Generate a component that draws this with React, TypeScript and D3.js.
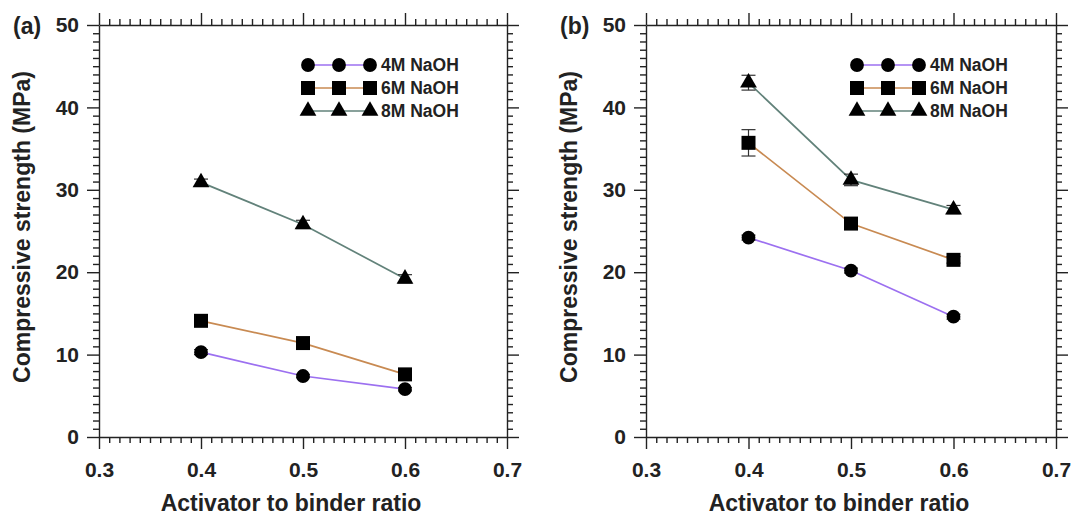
import React, { useEffect, useRef } from 'react';
import * as d3 from 'd3';

// x values shared by every series
const ratios = [0.4, 0.5, 0.6];
const seriesNames = ['4M NaOH', '6M NaOH', '8M NaOH'];
const lineColors = ['#9c70f0', '#c88a52', '#62827a'];

// panel (a)
const a4M = [10.3, 7.4, 5.8];
const a6M = [14.1, 11.4, 7.6];
const a8M = [30.9, 25.8, 19.2];
const a4MErr = [0.3, 0.2, 0.2];
const a6MErr = [0.3, 0.3, 0.3];
const a8MErr = [0.4, 0.5, 0.5];

// panel (b)
const b4M = [24.2, 20.2, 14.6];
const b6M = [35.7, 25.9, 21.5];
const b8M = [43.0, 31.2, 27.6];
const b4MErr = [0.3, 0.3, 0.3];
const b6MErr = [1.6, 0.5, 0.4];
const b8MErr = [0.9, 0.7, 0.5];

const xTicks = [0.3, 0.4, 0.5, 0.6, 0.7];
const yTicks = [0, 10, 20, 30, 40, 50];
const xMinor = d3.range(30, 71).filter((i) => i % 10 !== 0).map((i) => i / 100);
const yMinor = d3.range(0, 51).filter((i) => i % 10 !== 0);

const FONT = '"Liberation Sans", Arial, sans-serif';
const INK = '#222';

const symbols = [d3.symbolCircle, d3.symbolSquare, d3.symbolTriangle];
const symbolSizes = [150, 196, 122];

const panels = [
	{ tag: '(a)', left: 99, right: 507, series: [a4M, a6M, a8M], errs: [a4MErr, a6MErr, a8MErr] },
	{ tag: '(b)', left: 646, right: 1056, series: [b4M, b6M, b8M], errs: [b4MErr, b6MErr, b8MErr] },
];

const TOP = 25;
const BOTTOM = 437;

function drawPanel(svg, p) {
	const x = d3.scaleLinear().domain([0.3, 0.7]).range([p.left, p.right]);
	const y = d3.scaleLinear().domain([0, 50]).range([BOTTOM, TOP]);
	const g = svg.append('g');

	const styleAxis = (sel) => {
		sel.selectAll('path,line').attr('stroke', INK).attr('stroke-width', 1.4);
		sel.selectAll('text')
			.attr('font-family', FONT)
			.attr('font-size', 21)
			.attr('font-weight', 'bold')
			.attr('fill', INK);
	};

	// minor ticks
	g.append('g').attr('transform', `translate(0,${BOTTOM})`)
		.call(d3.axisBottom(x).tickValues(xMinor).tickSize(6).tickFormat(() => ''))
		.call(styleAxis).select('.domain').remove();
	g.append('g').attr('transform', `translate(0,${TOP})`)
		.call(d3.axisTop(x).tickValues(xMinor).tickSize(6).tickFormat(() => ''))
		.call(styleAxis).select('.domain').remove();
	g.append('g').attr('transform', `translate(${p.left},0)`)
		.call(d3.axisLeft(y).tickValues(yMinor).tickSize(6).tickFormat(() => ''))
		.call(styleAxis).select('.domain').remove();
	g.append('g').attr('transform', `translate(${p.right},0)`)
		.call(d3.axisRight(y).tickValues(yMinor).tickSize(6).tickFormat(() => ''))
		.call(styleAxis).select('.domain').remove();

	// major ticks and labels
	g.append('g').attr('transform', `translate(0,${BOTTOM})`)
		.call(d3.axisBottom(x).tickValues(xTicks).tickSize(12).tickSizeOuter(0).tickPadding(13).tickFormat(d3.format('.1f')))
		.call(styleAxis);
	g.append('g').attr('transform', `translate(0,${TOP})`)
		.call(d3.axisTop(x).tickValues(xTicks).tickSize(12).tickSizeOuter(0).tickFormat(() => ''))
		.call(styleAxis);
	g.append('g').attr('transform', `translate(${p.left},0)`)
		.call(d3.axisLeft(y).tickValues(yTicks).tickSize(12).tickSizeOuter(0).tickPadding(8))
		.call(styleAxis);
	g.append('g').attr('transform', `translate(${p.right},0)`)
		.call(d3.axisRight(y).tickValues(yTicks).tickSize(12).tickSizeOuter(0).tickFormat(() => ''))
		.call(styleAxis);

	// axis titles
	g.append('text')
		.attr('transform', `translate(${p.left - 69},${(TOP + BOTTOM) / 2 - 4}) rotate(-90)`)
		.attr('text-anchor', 'middle')
		.attr('font-family', FONT).attr('font-size', 23).attr('font-weight', 'bold').attr('fill', INK)
		.text('Compressive strength (MPa)');
	g.append('text')
		.attr('x', (p.left + p.right) / 2 - 12).attr('y', 511)
		.attr('text-anchor', 'middle')
		.attr('font-family', FONT).attr('font-size', 23).attr('font-weight', 'bold').attr('fill', INK)
		.text('Activator to binder ratio');
	g.append('text')
		.attr('x', p.left - 86).attr('y', 34)
		.attr('font-family', FONT).attr('font-size', 23).attr('font-weight', 'bold').attr('fill', INK)
		.text(p.tag);

	const line = d3.line().x((d) => x(d[0])).y((d) => y(d[1]));

	p.series.forEach((vals, si) => {
		const pts = ratios.map((r, i) => [r, vals[i]]);
		g.append('path')
			.attr('d', line(pts))
			.attr('fill', 'none')
			.attr('stroke', lineColors[si])
			.attr('stroke-width', 1.7);

		// error bars
		const eg = g.append('g').attr('stroke', '#333').attr('stroke-width', 1.2);
		ratios.forEach((r, i) => {
			const e = p.errs[si][i];
			const cx = x(r);
			eg.append('line').attr('x1', cx).attr('x2', cx).attr('y1', y(vals[i] - e)).attr('y2', y(vals[i] + e));
			[vals[i] - e, vals[i] + e].forEach((v) => {
				eg.append('line').attr('x1', cx - 7).attr('x2', cx + 7).attr('y1', y(v)).attr('y2', y(v));
			});
		});

		const sym = d3.symbol().type(symbols[si]).size(symbolSizes[si]);
		g.selectAll(null).data(pts).enter().append('path')
			.attr('d', sym)
			.attr('transform', (d) => `translate(${x(d[0])},${y(d[1])})`)
			.attr('fill', '#000');
	});

	// legend
	const lx = [p.right - 199, p.right - 168, p.right - 137];
	const textX = p.right - 126;
	seriesNames.forEach((name, si) => {
		const ly = 65 + si * 23;
		g.append('line')
			.attr('x1', lx[0]).attr('x2', lx[2]).attr('y1', ly).attr('y2', ly)
			.attr('stroke', lineColors[si]).attr('stroke-width', 1.7);
		const sym = d3.symbol().type(symbols[si]).size(symbolSizes[si]);
		lx.forEach((cx) => {
			g.append('path').attr('d', sym).attr('transform', `translate(${cx},${ly})`).attr('fill', '#000');
		});
		g.append('text')
			.attr('x', textX).attr('y', ly).attr('dy', '0.36em')
			.attr('font-family', FONT).attr('font-size', 17.5).attr('font-weight', 'bold').attr('fill', INK)
			.text(name);
	});
}

export default function App() {
	const ref = useRef(null);

	useEffect(() => {
		const svg = d3.select(ref.current);
		svg.selectAll('*').remove();
		panels.forEach((p) => drawPanel(svg, p));
		return () => {
			svg.selectAll('*').remove();
		};
	}, []);

	return (
		<svg
			ref={ref}
			width={1072}
			height={515}
			style={{ position: 'absolute', left: 0, top: 0, background: '#fff' }}
		></svg>
	);
}
